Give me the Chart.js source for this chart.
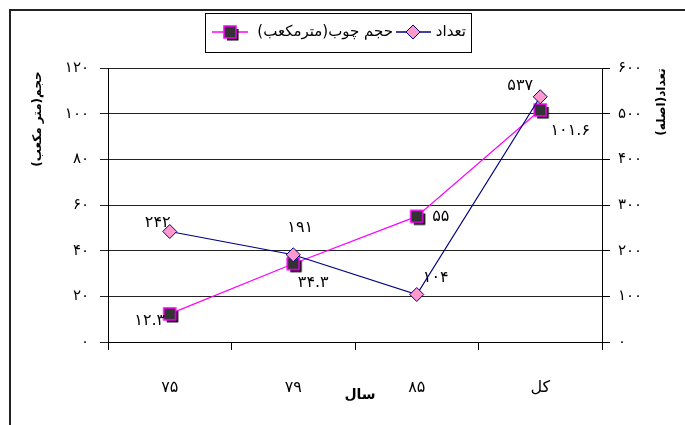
<!DOCTYPE html>
<html>
<head>
<meta charset="utf-8">
<script src="https://cdn.jsdelivr.net/npm/chart.js@4/dist/chart.umd.min.js"></script>
<style>
  body { margin: 0; background: #fff; }
  #wrap { width: 685px; height: 425px; }
</style>
</head>
<body>
<div id="wrap"><canvas id="canvas" width="685" height="425"></canvas></div>
<script>
// data
const years = ['۷۵', '۷۹', '۸۵', 'کل'];
const countValues = [242, 191, 104, 537];      // تعداد (اصله)
const volumeValues = [12.3, 34.3, 55, 101.6];  // حجم چوب (مترمکعب)
const countLabel = 'تعداد';
const volumeLabel = 'حجم چوب(مترمکعب)';
const leftTitle = 'حجم(متر مکعب)';
const rightTitle = 'تعداد(اصله)';
const xTitle = 'سال';

// where each value label sits relative to its point
const countLabelOffsets = [[-12, -9], [7, -27], [19, -17], [-20, -11]];
const volumeLabelOffsets = [[-20, 7], [20, 19], [24, 0], [30, 21]];

const FONT = '"DejaVu Sans", sans-serif';
const faDigits = '۰۱۲۳۴۵۶۷۸۹';
function toFa(v) {
  return String(v).replace(/[0-9]/g, d => faDigits[+d]);
}

// square marker with a drop shadow, like the office chart
function squareMarker() {
  const c = document.createElement('canvas');
  c.width = 22; c.height = 22;
  const g = c.getContext('2d');
  g.fillStyle = '#000';
  g.fillRect(8, 8, 11.5, 11.5);
  g.fillStyle = '#333333';
  g.fillRect(5, 5, 12, 12);
  g.strokeStyle = '#ff00ff';
  g.lineWidth = 1.5;
  g.strokeRect(5, 5, 12, 12);
  return c;
}
const sq = squareMarker();

const decor = {
  id: 'decor',
  afterDatasetsDraw(chart) {
    const ctx = chart.ctx;
    ctx.save();
    ctx.font = '16px ' + FONT;
    ctx.fillStyle = '#000';
    ctx.textAlign = 'center';
    ctx.textBaseline = 'middle';
    ctx.direction = 'ltr';
    chart.getDatasetMeta(0).data.forEach((p, i) => {
      const o = countLabelOffsets[i];
      ctx.fillText(toFa(countValues[i]), p.x + o[0], p.y + o[1]);
    });
    chart.getDatasetMeta(1).data.forEach((p, i) => {
      const o = volumeLabelOffsets[i];
      ctx.fillText(toFa(volumeValues[i]), p.x + o[0], p.y + o[1]);
    });
    ctx.restore();
  },
  afterDraw(chart) {
    const ctx = chart.ctx;
    ctx.save();
    // outer frame (only top and left are visible)
    ctx.strokeStyle = '#222';
    ctx.lineWidth = 2;
    ctx.beginPath();
    ctx.moveTo(685, 10);
    ctx.lineTo(10, 10);
    ctx.lineTo(10, 425);
    ctx.stroke();

    // legend box
    ctx.fillStyle = '#fff';
    ctx.fillRect(205, 13, 266, 39);
    ctx.lineWidth = 1;
    ctx.strokeStyle = '#000';
    ctx.strokeRect(205.5, 13.5, 266, 39);
    const ly = 32;
    ctx.lineWidth = 1.5;
    ctx.strokeStyle = '#ff00ff';
    ctx.beginPath(); ctx.moveTo(212, ly); ctx.lineTo(248, ly); ctx.stroke();
    ctx.drawImage(sq, 230 - 11, ly - 11);
    ctx.strokeStyle = '#000080';
    ctx.beginPath(); ctx.moveTo(396, ly); ctx.lineTo(431, ly); ctx.stroke();
    ctx.fillStyle = '#ff99cc';
    ctx.lineWidth = 1;
    ctx.beginPath();
    ctx.moveTo(413, ly - 7); ctx.lineTo(420, ly); ctx.lineTo(413, ly + 7); ctx.lineTo(406, ly);
    ctx.closePath(); ctx.fill(); ctx.stroke();
    ctx.fillStyle = '#000';
    ctx.font = '15px ' + FONT;
    ctx.textBaseline = 'middle';
    ctx.direction = 'rtl';
    ctx.textAlign = 'right';
    ctx.fillText(volumeLabel, 393, ly);
    ctx.fillText(countLabel, 466, ly);

    // axis titles
    ctx.font = 'bold 12px ' + FONT;
    ctx.textAlign = 'center';
    ctx.save();
    ctx.translate(38, 119);
    ctx.rotate(-Math.PI / 2);
    ctx.fillText(leftTitle, 0, 0);
    ctx.restore();
    ctx.save();
    ctx.translate(662, 102);
    ctx.rotate(-Math.PI / 2);
    ctx.fillText(rightTitle, 0, 0);
    ctx.restore();
    ctx.font = 'bold 14px ' + FONT;
    ctx.fillText(xTitle, 360, 395);
    ctx.restore();
  }
};

new Chart(document.getElementById('canvas').getContext('2d'), {
  type: 'line',
  data: {
    labels: years,
    datasets: [
      {
        label: countLabel,
        data: countValues,
        yAxisID: 'y1',
        borderColor: '#000080',
        borderWidth: 1.2,
        pointStyle: 'rectRot',
        pointRadius: 7,
        pointHoverRadius: 7,
        pointBackgroundColor: '#ff99cc',
        pointBorderColor: '#000080',
        pointBorderWidth: 1,
        tension: 0
      },
      {
        label: volumeLabel,
        data: volumeValues,
        yAxisID: 'y',
        borderColor: '#ff00ff',
        borderWidth: 1.2,
        pointStyle: sq,
        pointRadius: 7,
        pointHoverRadius: 7,
        tension: 0
      }
    ]
  },
  options: {
    responsive: false,
    animation: false,
    events: [],
    layout: { padding: { top: 68, left: 0, right: 0, bottom: 0 } },
    plugins: {
      legend: { display: false },
      tooltip: { enabled: false }
    },
    scales: {
      x: {
        offset: true,
        afterFit: s => { s.height = 83; },
        grid: { drawOnChartArea: false, color: '#000', tickLength: 8, offset: true },
        border: { color: '#000', width: 1 },
        ticks: { color: '#000', font: { family: FONT, size: 16 }, padding: 28, maxRotation: 0 }
      },
      y: {
        position: 'left',
        min: 0, max: 120,
        afterFit: s => { s.width = 108; },
        grid: { color: '#222', tickLength: 8 },
        border: { color: '#000', width: 1 },
        ticks: { stepSize: 20, color: '#000', padding: 11, font: { family: FONT, size: 15 }, callback: v => toFa(v) }
      },
      y1: {
        position: 'right',
        min: 0, max: 600,
        afterFit: s => { s.width = 83; },
        grid: { drawOnChartArea: false, color: '#000', tickLength: 8 },
        border: { color: '#000', width: 1 },
        ticks: { stepSize: 100, color: '#000', padding: 8, font: { family: FONT, size: 15 }, callback: v => toFa(v) }
      }
    }
  },
  plugins: [decor]
});
</script>
</body>
</html>
